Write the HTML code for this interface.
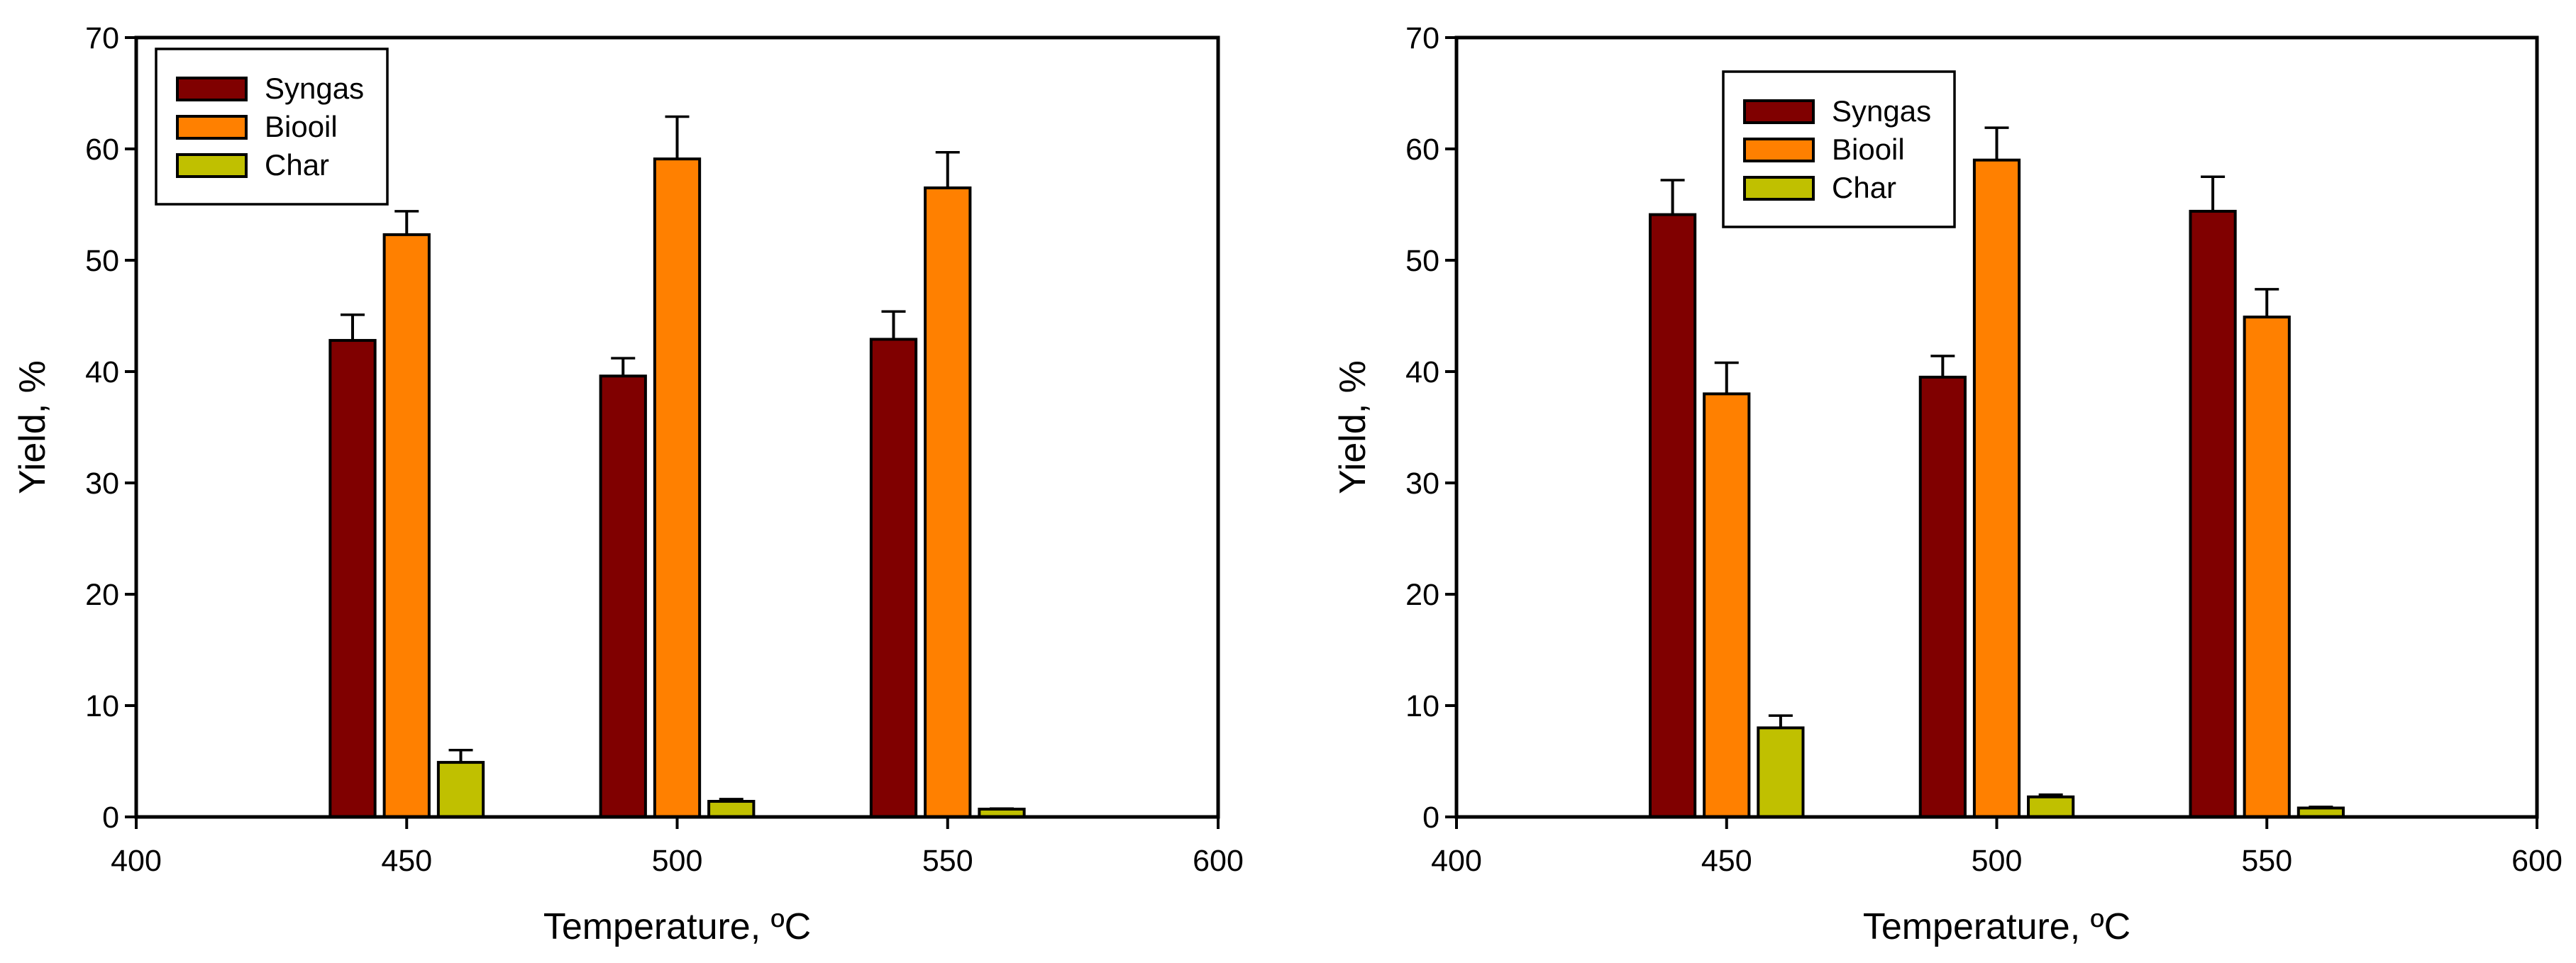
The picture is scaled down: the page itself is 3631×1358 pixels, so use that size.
<!DOCTYPE html>
<html><head><meta charset="utf-8"><style>
html,body{margin:0;padding:0;background:#fff;}
svg{display:block;font-family:"Liberation Sans",Arial,sans-serif;}
</style></head><body>
<svg id="chart" width="3631" height="1358" viewBox="0 0 3631 1358" xmlns="http://www.w3.org/2000/svg"></svg>
<script>
const categories = [450, 500, 550];
const seriesNames = ["Syngas", "Biooil", "Char"];
const leftSyngas = [42.8, 39.6, 42.9];
const leftSyngasErr = [2.3, 1.6, 2.5];
const leftBiooil = [52.3, 59.1, 56.5];
const leftBiooilErr = [2.1, 3.8, 3.2];
const leftChar = [4.9, 1.4, 0.7];
const leftCharErr = [1.1, 0.2, 0.05];
const rightSyngas = [54.1, 39.5, 54.4];
const rightSyngasErr = [3.1, 1.9, 3.1];
const rightBiooil = [38.0, 59.0, 44.9];
const rightBiooilErr = [2.8, 2.9, 2.5];
const rightChar = [8.0, 1.8, 0.8];
const rightCharErr = [1.1, 0.2, 0.1];
const xTicks = [400, 450, 500, 550, 600];
const yTicks = [0, 10, 20, 30, 40, 50, 60, 70];

const colors = ["#800000", "#FF8000", "#C0C000"];
const NS = "http://www.w3.org/2000/svg";
const svg = document.getElementById("chart");
function mk(tag, attrs, parent) {
  const e = document.createElementNS(NS, tag);
  for (const k in attrs) e.setAttribute(k, attrs[k]);
  (parent || svg).appendChild(e);
  return e;
}
function drawPanel(id, x0, x1, y0, y1, data, errs, legend) {
  const g = mk("g", {});
  
  
  const xs = v => x0 + (v - 400) / 200 * (x1 - x0);
  const ys = v => y0 - v / 70 * (y0 - y1);
  const bw = 8.3, off = 10;
  data.forEach((vals, s) => {
    vals.forEach((v, i) => {
      const cx = xs(categories[i] + (s - 1) * off);
      const w = xs(400 + bw) - xs(400);
      const r = mk("rect", {x: cx - w / 2, y: ys(v), width: w, height: ys(0) - ys(v), fill: colors[s], stroke: "#000", "stroke-width": 4}, g);
      
      
      const e = errs[s][i];
      const ln = mk("line", {x1: cx, x2: cx, y1: ys(v), y2: ys(v + e), stroke: "#000", "stroke-width": 4}, g);
      
      
      const cap = mk("line", {x1: cx - 17, x2: cx + 17, y1: ys(v + e), y2: ys(v + e), stroke: "#000", "stroke-width": 3.5}, g);
      
      
    });
  });
  const frame = mk("rect", {x: x0, y: y1, width: x1 - x0, height: y0 - y1, fill: "none", stroke: "#000", "stroke-width": 5}, g);
  
  
  yTicks.forEach(t => {
    mk("line", {x1: x0 - 16, x2: x0, y1: ys(t), y2: ys(t), stroke: "#000", "stroke-width": 4}, g);
    const tx = mk("text", {x: x0 - 24, y: ys(t) + 15, "text-anchor": "end", "font-size": 43}, g);
    tx.textContent = t;
    
    
  });
  xTicks.forEach(t => {
    mk("line", {x1: xs(t), x2: xs(t), y1: y0, y2: y0 + 17, stroke: "#000", "stroke-width": 4}, g);
    const tx = mk("text", {x: xs(t), y: y0 + 76, "text-anchor": "middle", "font-size": 43}, g);
    tx.textContent = t;
    
    
  });
  const xt = mk("text", {x: (x0 + x1) / 2, y: 1324, "text-anchor": "middle", "font-size": 52}, g);
  xt.textContent = "Temperature, ºC";
  
  
  const yt = mk("text", {x: 0, y: 0, "text-anchor": "middle", "font-size": 52, transform: `translate(${x0 - 129},${(y0 + y1) / 2}) rotate(-90)`}, g);
  yt.textContent = "Yield, %";
  
  
  const lg = mk("g", {}, g);
  
  
  mk("rect", {x: legend.x, y: legend.y, width: 326, height: 219, fill: "#fff", stroke: "#000", "stroke-width": 3.5}, lg);
  seriesNames.forEach((n, s) => {
    const yy = legend.y + 41 + s * 54;
    const sw = mk("rect", {x: legend.x + 30, y: yy, width: 97, height: 31, fill: colors[s], stroke: "#000", "stroke-width": 4}, lg);
    
    
    const t = mk("text", {x: legend.x + 153, y: yy + 29, "font-size": 42}, lg);
    t.textContent = n;
    
    
  });
}
drawPanel("left-chart", 192, 1717, 1152, 53,
  [leftSyngas, leftBiooil, leftChar], [leftSyngasErr, leftBiooilErr, leftCharErr], {x: 220, y: 69});
drawPanel("right-chart", 2053, 3576, 1152, 53,
  [rightSyngas, rightBiooil, rightChar], [rightSyngasErr, rightBiooilErr, rightCharErr], {x: 2429, y: 101});
</script>
</body></html>
